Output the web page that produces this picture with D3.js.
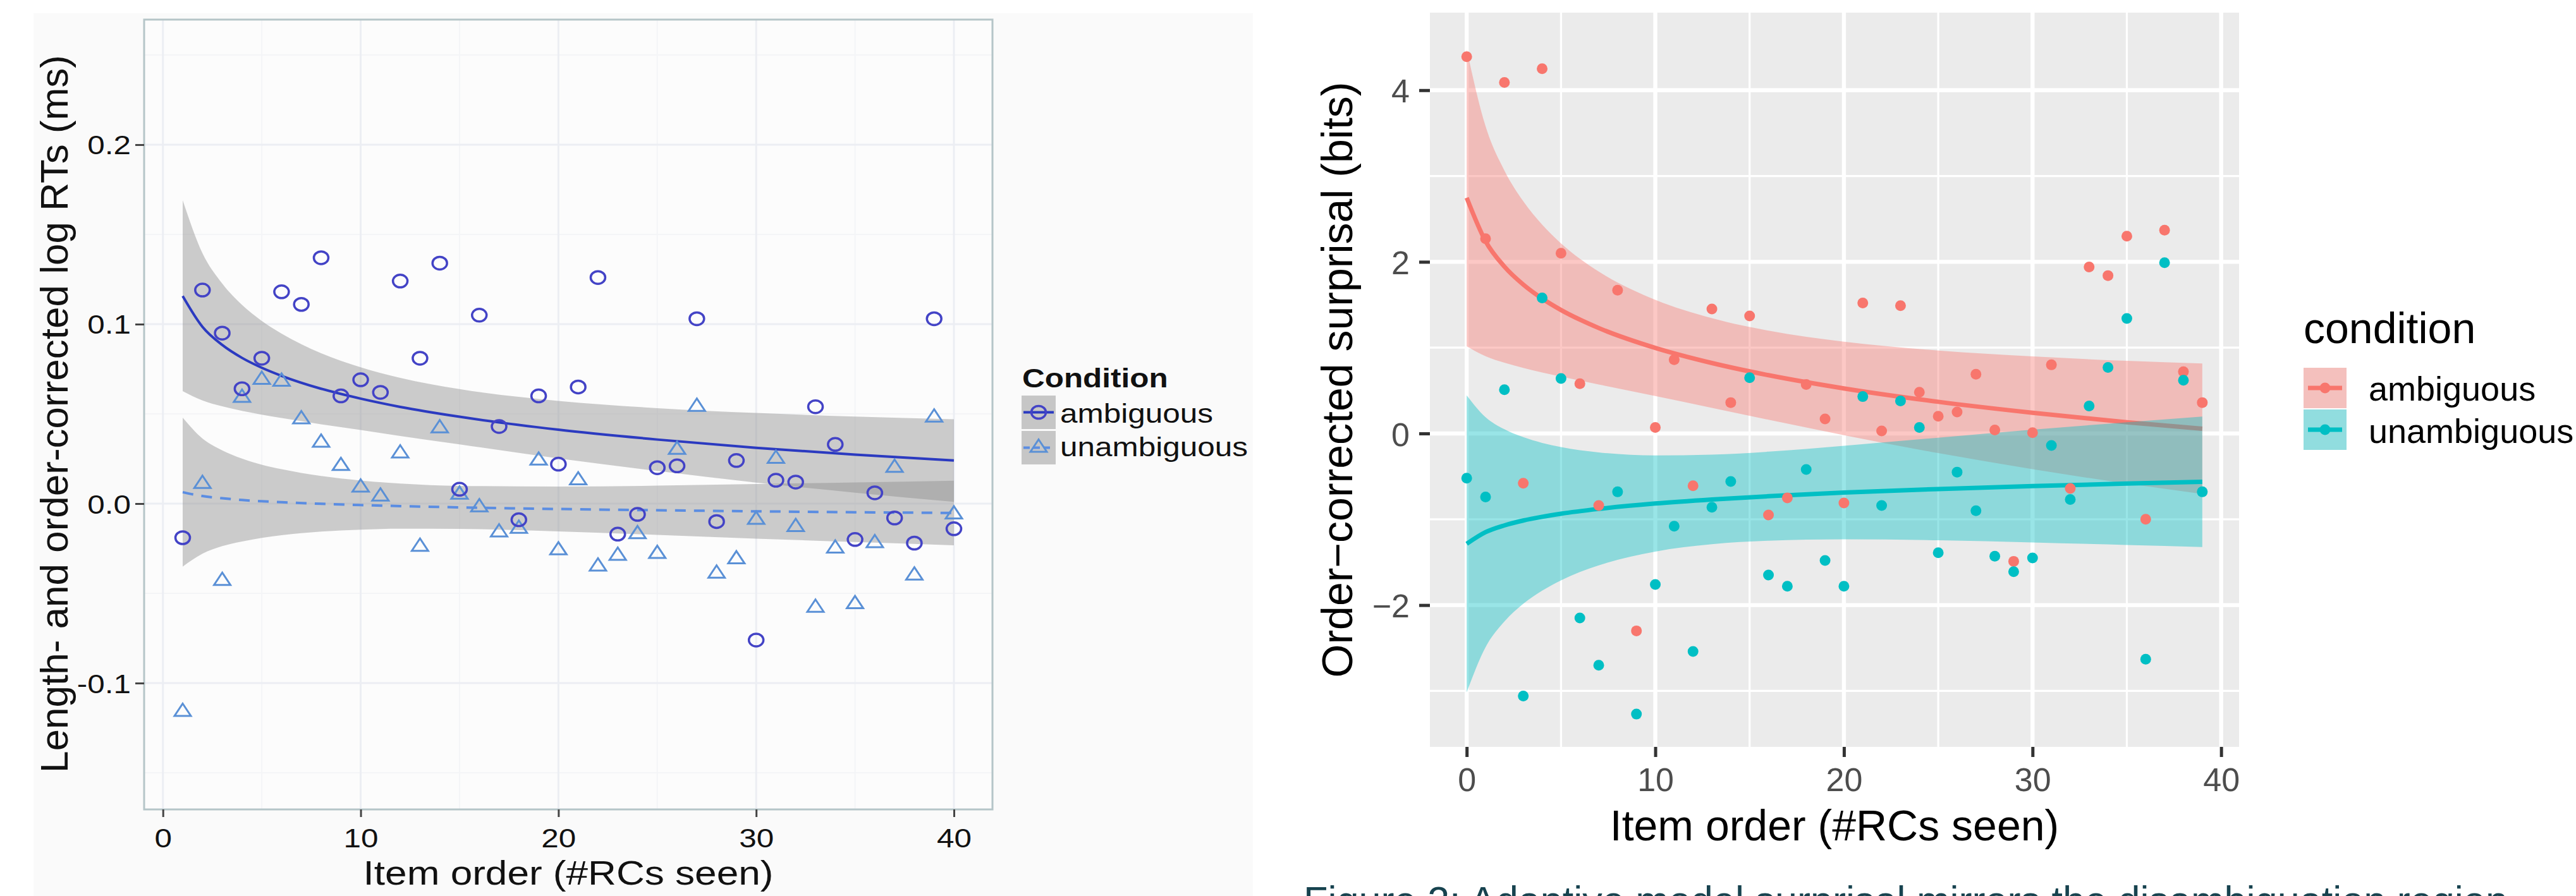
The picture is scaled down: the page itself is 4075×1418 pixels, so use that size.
<!DOCTYPE html>
<html>
<head>
<meta charset="utf-8">
<script src="https://cdn.jsdelivr.net/npm/d3@7/dist/d3.min.js"></script>
<style>
html,body{margin:0;padding:0;background:#ffffff;}
svg{display:block;}
</style>
</head>
<body>
<svg id="chart" width="4075" height="1418" xmlns="http://www.w3.org/2000/svg"></svg>
<script>
// ================= LEFT: reading times =================
const rtItems = [1,2,3,4,5,6,7,8,9,10,11,12,13,14,15,16,17,18,19,20,21,22,23,24,25,26,27,28,29,30,31,32,33,34,35,36,37,38,39,40];
const rtAmbiguous = [-0.019,0.119,0.095,0.064,0.081,0.118,0.111,0.137,0.060,0.069,0.062,0.124,0.081,0.134,0.008,0.105,0.043,-0.009,0.060,0.022,
                     0.065,0.126,-0.017,-0.006,0.020,0.021,0.103,-0.010,0.024,-0.076,0.013,0.012,0.054,0.033,-0.020,0.006,-0.008,-0.022,0.103,-0.014];
const rtUnambiguous = [-0.116,0.011,-0.043,0.059,0.069,0.068,0.047,0.034,0.021,0.009,0.004,0.028,-0.024,0.042,0.005,-0.002,-0.016,-0.014,0.024,-0.026,
                       0.013,-0.035,-0.029,-0.017,-0.028,0.030,0.054,-0.039,-0.031,-0.009,0.025,-0.013,-0.058,-0.025,-0.056,-0.022,0.020,-0.040,0.048,-0.006];
const rtFitItems   = [1,2,3,4,5,6,8,10,12,15,20,25,30,35,40];
const rtAmbFit     = [0.1157,0.0985,0.0884,0.0812,0.0757,0.0712,0.0640,0.0585,0.0539,0.0484,0.0412,0.0357,0.0311,0.0273,0.0240];
const rtAmbLow     = [0.0627,0.0575,0.0542,0.0517,0.0496,0.0477,0.0442,0.0410,0.0377,0.0330,0.0252,0.0182,0.0117,0.0061,0.0010];
const rtAmbHigh    = [0.1690,0.1395,0.1226,0.1107,0.1018,0.0947,0.0838,0.0760,0.0701,0.0638,0.0572,0.0532,0.0505,0.0485,0.0470];
const rtUnambFit   = [0.0064,0.0042,0.0030,0.0020,0.0013,0.0008,-0.0001,-0.0008,-0.0014,-0.0021,-0.0030,-0.0037,-0.0043,-0.0048,-0.0052];
const rtUnambLow   = [-0.0351,-0.0279,-0.0237,-0.0211,-0.0191,-0.0176,-0.0156,-0.0145,-0.0140,-0.0141,-0.0155,-0.0174,-0.0195,-0.0214,-0.0232];
const rtUnambHigh  = [0.0479,0.0363,0.0297,0.0251,0.0217,0.0192,0.0154,0.0129,0.0112,0.0099,0.0095,0.0100,0.0109,0.0118,0.0128];
const rtXTicks = [0,10,20,30,40];
const rtXMinor = [5,15,25,35];
const rtYTicks = [-0.1,0.0,0.1,0.2];
const rtYTickLabels = ["-0.1","0.0","0.1","0.2"];
const rtYMinor = [-0.15,-0.05,0.05,0.15,0.25];
const rtLegendTitle = "Condition";
const conditions = ["ambiguous","unambiguous"];

// ================= RIGHT: surprisal =================
const spItems = [0,1,2,3,4,5,6,7,8,9,10,11,12,13,14,15,16,17,18,19,20,21,22,23,24,25,26,27,28,29,30,31,32,33,34,35,36,37,38,39];
const spAmbiguous = [4.39,2.27,4.09,-0.58,4.25,2.10,0.58,-0.84,1.67,-2.30,0.07,0.86,-0.61,1.45,0.36,1.37,-0.95,-0.75,0.57,0.17,
                     -0.81,1.52,0.03,1.49,0.48,0.20,0.25,0.69,0.04,-1.49,0.01,0.80,-0.64,1.94,1.84,2.30,-1.00,2.37,0.72,0.36];
const spUnambiguous = [-0.52,-0.74,0.51,-3.06,1.58,0.64,-2.15,-2.70,-0.68,-3.27,-1.76,-1.08,-2.54,-0.86,-0.56,0.65,-1.65,-1.78,-0.42,-1.48,
                       -1.78,0.43,-0.84,0.38,0.07,-1.39,-0.45,-0.90,-1.43,-1.61,-1.45,-0.14,-0.77,0.32,0.77,1.34,-2.63,1.99,0.62,-0.68];
const spFitItems  = [0,1,2,3,4,5,7,10,13,16,20,25,30,35,39];
const spAmbFit    = [2.746,2.240,1.944,1.735,1.572,1.439,1.229,0.997,0.821,0.679,0.525,0.369,0.241,0.131,0.055];
const spAmbLow    = [1.016,0.900,0.824,0.764,0.711,0.663,0.571,0.437,0.299,0.160,-0.020,-0.229,-0.416,-0.584,-0.705];
const spAmbHigh   = [4.476,3.580,3.064,2.706,2.433,2.215,1.887,1.557,1.343,1.198,1.070,0.967,0.898,0.846,0.815];
const spUnambFit  = [-1.286,-1.150,-1.071,-1.014,-0.971,-0.935,-0.879,-0.816,-0.769,-0.731,-0.689,-0.647,-0.613,-0.584,-0.563];
const spUnambLow  = [-3.016,-2.490,-2.191,-1.985,-1.832,-1.711,-1.537,-1.376,-1.291,-1.250,-1.234,-1.245,-1.270,-1.299,-1.323];
const spUnambHigh = [0.444,0.190,0.049,-0.043,-0.110,-0.159,-0.221,-0.256,-0.247,-0.212,-0.144,-0.049,0.044,0.131,0.197];
const spXTicks = [0,10,20,30,40];
const spXMinor = [5,15,25,35];
const spYTicks = [-2,0,2,4];
const spYTickLabels = ["\u22122","0","2","4"];
const spYMinor = [-3,-1,1,3];
const spLegendTitle = "condition";
const captionText = "Figure 2: Adaptive model surprisal mirrors the disambiguation region";

// ================= drawing =================
const FONT = "'Liberation Sans', Arial, Helvetica, sans-serif";
const SX = 1.15; // horizontal stretch of the left (raster) figure
const svg = d3.select("#chart");
svg.append("rect").attr("width",4075).attr("height",1418).attr("fill","#ffffff");

// ---------- LEFT ----------
const L = svg.append("g");
L.append("rect").attr("x",53).attr("y",21).attr("width",1929).attr("height",1397).attr("fill","#fafafa");
const lx = d3.scaleLinear().domain([-0.95,41.95]).range([228,1570]);
const ly = d3.scaleLinear().domain([-0.1704,0.2697]).range([1281,31]);
L.append("rect").attr("x",228).attr("y",31).attr("width",1342).attr("height",1250).attr("fill","#fcfcfc");
const lgrid = L.append("g");
rtXMinor.forEach(v=>lgrid.append("line").attr("x1",lx(v)).attr("x2",lx(v)).attr("y1",31).attr("y2",1281).attr("stroke","#f4f5f7").attr("stroke-width",2));
rtYMinor.forEach(v=>lgrid.append("line").attr("y1",ly(v)).attr("y2",ly(v)).attr("x1",228).attr("x2",1570).attr("stroke","#f4f5f7").attr("stroke-width",2));
rtXTicks.forEach(v=>lgrid.append("line").attr("x1",lx(v)).attr("x2",lx(v)).attr("y1",31).attr("y2",1281).attr("stroke","#eceef3").attr("stroke-width",3));
rtYTicks.forEach(v=>lgrid.append("line").attr("y1",ly(v)).attr("y2",ly(v)).attr("x1",228).attr("x2",1570).attr("stroke","#eceef3").attr("stroke-width",3));

const rtAmbBand = rtFitItems.map((x,i)=>({x, lo:rtAmbLow[i], hi:rtAmbHigh[i], y:rtAmbFit[i]}));
const rtUnBand  = rtFitItems.map((x,i)=>({x, lo:rtUnambLow[i], hi:rtUnambHigh[i], y:rtUnambFit[i]}));
const lArea = d3.area().x(d=>lx(d.x)).y0(d=>ly(d.lo)).y1(d=>ly(d.hi)).curve(d3.curveMonotoneX);
const lLine = d3.line().x(d=>lx(d.x)).y(d=>ly(d.y)).curve(d3.curveMonotoneX);
const AMB_L = "#4343c6", UN_L = "#5a90d6", RIB_L = "#8a8a8a";
L.append("path").attr("d",lArea(rtAmbBand)).attr("fill",RIB_L).attr("fill-opacity",0.43);
L.append("path").attr("d",lArea(rtUnBand)).attr("fill",RIB_L).attr("fill-opacity",0.43);
L.append("path").attr("d",lLine(rtAmbBand)).attr("fill","none").attr("stroke","#2b3ac0").attr("stroke-width",4);
L.append("path").attr("d",lLine(rtUnBand)).attr("fill","none").attr("stroke","#5b8de2").attr("stroke-width",4).attr("stroke-dasharray","17,13");

function triPath(cx, cy, r){
  const w = r*0.866*SX;
  return `M${cx},${cy-r}L${cx+w},${cy+r/2}L${cx-w},${cy+r/2}Z`;
}
L.append("g").selectAll("path").data(rtItems).join("path")
  .attr("d",(d,i)=>triPath(lx(d), ly(rtUnambiguous[i]), 13))
  .attr("fill","none").attr("stroke",UN_L).attr("stroke-width",3);
L.append("g").selectAll("ellipse").data(rtItems).join("ellipse")
  .attr("cx",d=>lx(d)).attr("cy",(d,i)=>ly(rtAmbiguous[i])).attr("rx",10*SX).attr("ry",10)
  .attr("fill","none").attr("stroke",AMB_L).attr("stroke-width",3.5);

L.append("rect").attr("x",228).attr("y",31).attr("width",1342).attr("height",1250).attr("fill","none").attr("stroke","#b5c5c8").attr("stroke-width",3);

// axes
L.append("g").attr("transform","translate(0,1281)")
  .call(d3.axisBottom(lx).tickValues(rtXTicks).tickSize(12).tickFormat(d3.format("d")))
  .call(g=>{
    g.attr("font-size",null).attr("font-family",null);
    g.select(".domain").remove();
    g.selectAll(".tick line").attr("stroke","#444").attr("stroke-width",3);
    g.selectAll(".tick text").attr("y",0).attr("dy",null).attr("transform",`translate(0,60) scale(${SX},1)`)
      .attr("font-size",43).attr("font-family",FONT).attr("fill","#111");
  });
L.append("g").attr("transform","translate(228,0)")
  .call(d3.axisLeft(ly).tickValues(rtYTicks).tickSize(14).tickFormat((d,i)=>rtYTickLabels[i]))
  .call(g=>{
    g.attr("font-size",null).attr("font-family",null);
    g.select(".domain").remove();
    g.selectAll(".tick line").attr("stroke","#444").attr("stroke-width",3);
    g.selectAll(".tick text").attr("x",0).attr("dy",null).attr("y",0).attr("transform",`translate(-21,15) scale(${SX},1)`)
      .attr("text-anchor","end").attr("font-size",43).attr("font-family",FONT).attr("fill","#111");
  });
L.append("text").attr("transform",`translate(899,1400) scale(${SX},1)`).attr("text-anchor","middle")
  .attr("font-family",FONT).attr("font-size",54).attr("fill","#111").text("Item order (#RCs seen)");
L.append("text").attr("transform","translate(107,655) rotate(-90)").attr("text-anchor","middle")
  .attr("font-family",FONT).attr("font-size",62).attr("fill","#111").text("Length- and order-corrected log RTs (ms)");

// legend (left)
const LL = L.append("g");
LL.append("text").attr("transform",`translate(1617,613) scale(${SX},1)`).attr("font-family",FONT).attr("font-weight","bold")
  .attr("font-size",43).attr("fill","#111").text(rtLegendTitle);
conditions.forEach((c,i)=>{
  const ky = 626 + i*56;
  LL.append("rect").attr("x",1616).attr("y",ky).attr("width",54).attr("height",53).attr("fill","#f2f2f2");
  LL.append("rect").attr("x",1616).attr("y",ky).attr("width",54).attr("height",53).attr("fill",RIB_L).attr("fill-opacity",0.43);
  const cy = ky+26.5;
  if(i===0){
    LL.append("line").attr("x1",1619).attr("x2",1667).attr("y1",cy).attr("y2",cy).attr("stroke","#2b3ac0").attr("stroke-width",4);
    LL.append("ellipse").attr("cx",1643).attr("cy",cy).attr("rx",10*SX).attr("ry",10).attr("fill","none").attr("stroke",AMB_L).attr("stroke-width",3.5);
  } else {
    LL.append("line").attr("x1",1619).attr("x2",1667).attr("y1",cy).attr("y2",cy).attr("stroke","#5b8de2").attr("stroke-width",4).attr("stroke-dasharray","10,6");
    LL.append("path").attr("d",triPath(1643,cy,13)).attr("fill","none").attr("stroke",UN_L).attr("stroke-width",3);
  }
  LL.append("text").attr("transform",`translate(1677,${669+i*53}) scale(${SX},1)`).attr("font-family",FONT)
    .attr("font-size",43).attr("fill","#111").text(c);
});

// ---------- RIGHT ----------
const R = svg.append("g");
const rx = d3.scaleLinear().domain([-1.95,40.95]).range([2262,3542]);
const ry = d3.scaleLinear().domain([-3.652,4.904]).range([1182,20]);
R.append("rect").attr("x",2262).attr("y",20).attr("width",1280).attr("height",1162).attr("fill","#EBEBEB");
const rgrid = R.append("g");
spXMinor.forEach(v=>rgrid.append("line").attr("x1",rx(v)).attr("x2",rx(v)).attr("y1",20).attr("y2",1182).attr("stroke","#fff").attr("stroke-width",3.2));
spYMinor.forEach(v=>rgrid.append("line").attr("y1",ry(v)).attr("y2",ry(v)).attr("x1",2262).attr("x2",3542).attr("stroke","#fff").attr("stroke-width",3.2));
spXTicks.forEach(v=>rgrid.append("line").attr("x1",rx(v)).attr("x2",rx(v)).attr("y1",20).attr("y2",1182).attr("stroke","#fff").attr("stroke-width",6.4));
spYTicks.forEach(v=>rgrid.append("line").attr("y1",ry(v)).attr("y2",ry(v)).attr("x1",2262).attr("x2",3542).attr("stroke","#fff").attr("stroke-width",6.4));

const RED = "#F8766D", TEAL = "#00BFC4";
const spAmbBand = spFitItems.map((x,i)=>({x, lo:spAmbLow[i], hi:spAmbHigh[i], y:spAmbFit[i]}));
const spUnBand  = spFitItems.map((x,i)=>({x, lo:spUnambLow[i], hi:spUnambHigh[i], y:spUnambFit[i]}));
const rArea = d3.area().x(d=>rx(d.x)).y0(d=>ry(d.lo)).y1(d=>ry(d.hi)).curve(d3.curveMonotoneX);
const rLine = d3.line().x(d=>rx(d.x)).y(d=>ry(d.y)).curve(d3.curveMonotoneX);
R.append("path").attr("d",rArea(spAmbBand)).attr("fill",RED).attr("fill-opacity",0.4);
R.append("path").attr("d",rLine(spAmbBand)).attr("fill","none").attr("stroke",RED).attr("stroke-width",7);
R.append("path").attr("d",rArea(spUnBand)).attr("fill",TEAL).attr("fill-opacity",0.4);
R.append("path").attr("d",rLine(spUnBand)).attr("fill","none").attr("stroke",TEAL).attr("stroke-width",7);
R.append("g").selectAll("circle").data(spItems).join("circle")
  .attr("cx",d=>rx(d)).attr("cy",(d,i)=>ry(spAmbiguous[i])).attr("r",8.5).attr("fill",RED);
R.append("g").selectAll("circle").data(spItems).join("circle")
  .attr("cx",d=>rx(d)).attr("cy",(d,i)=>ry(spUnambiguous[i])).attr("r",8.5).attr("fill",TEAL);

R.append("g").attr("transform","translate(0,1182)")
  .call(d3.axisBottom(rx).tickValues(spXTicks).tickSize(16).tickFormat(d3.format("d")))
  .call(g=>{
    g.attr("font-size",null).attr("font-family",null);
    g.select(".domain").remove();
    g.selectAll(".tick line").attr("stroke","#333").attr("stroke-width",5);
    g.selectAll(".tick text").attr("y",70).attr("dy",null).attr("font-size",52).attr("font-family",FONT).attr("fill","#4D4D4D");
  });
R.append("g").attr("transform","translate(2262,0)")
  .call(d3.axisLeft(ry).tickValues(spYTicks).tickSize(17).tickFormat((d,i)=>spYTickLabels[i]))
  .call(g=>{
    g.attr("font-size",null).attr("font-family",null);
    g.select(".domain").remove();
    g.selectAll(".tick line").attr("stroke","#333").attr("stroke-width",5);
    g.selectAll(".tick text").attr("x",-32).attr("dy",null).attr("y",19).attr("text-anchor","end")
      .attr("font-size",52).attr("font-family",FONT).attr("fill","#4D4D4D");
  });
R.append("text").attr("x",2902).attr("y",1330).attr("text-anchor","middle")
  .attr("font-family",FONT).attr("font-size",68).attr("fill","#000").text("Item order (#RCs seen)");
R.append("text").attr("transform","translate(2139,601) rotate(-90)").attr("text-anchor","middle")
  .attr("font-family",FONT).attr("font-size",68).attr("fill","#000").text("Order\u2212corrected surprisal (bits)");

// legend (right)
const RL = R.append("g");
RL.append("text").attr("x",3644).attr("y",543).attr("font-family",FONT).attr("font-size",68).attr("fill","#000").text(spLegendTitle);
[RED,TEAL].forEach((col,i)=>{
  const ky = 582 + i*66;
  RL.append("rect").attr("x",3644).attr("y",ky).attr("width",68).attr("height",64).attr("fill","#F2F2F2");
  RL.append("rect").attr("x",3644).attr("y",ky).attr("width",68).attr("height",64).attr("fill",col).attr("fill-opacity",0.4);
  RL.append("line").attr("x1",3651).attr("x2",3705).attr("y1",ky+32).attr("y2",ky+32).attr("stroke",col).attr("stroke-width",7);
  RL.append("circle").attr("cx",3678).attr("cy",ky+32).attr("r",8.5).attr("fill",col);
  RL.append("text").attr("x",3747).attr("y",634+i*67).attr("font-family",FONT).attr("font-size",54).attr("fill","#000").text(conditions[i]);
});

// caption fragment (cut by the bottom edge, as in the reference)
svg.append("text").attr("x",2062).attr("y",1447).attr("font-family",FONT).attr("font-size",63)
  .attr("fill","#17434f").text(captionText);
</script>
</body>
</html>
